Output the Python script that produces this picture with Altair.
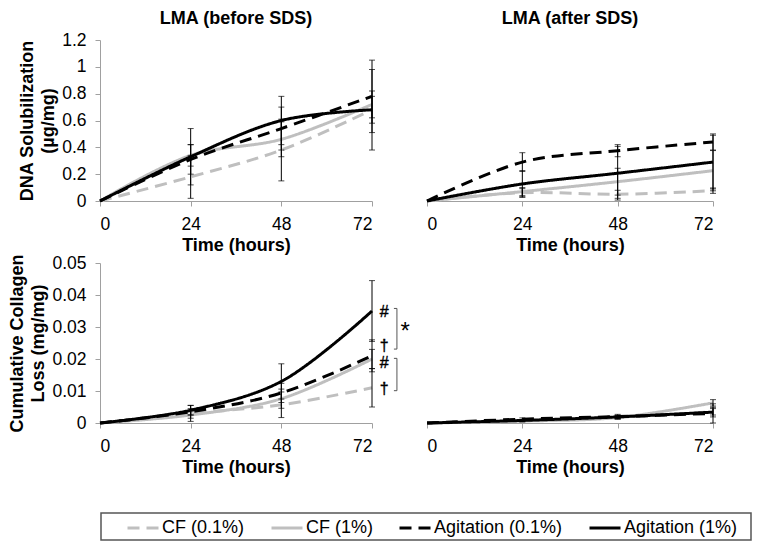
import altair as alt
import pandas as pd

hours = [0, 24, 48, 72]
series = ["CF (0.1%)", "CF (1%)", "Agitation (0.1%)", "Agitation (1%)"]
colors = ["#bfbfbf", "#bfbfbf", "#000000", "#000000"]
dashes = [[12, 7], [1, 0], [12, 7], [1, 0]]

# DNA solubilization, LMA before SDS
dna_before_cf01 = [0, 0.18, 0.38, 0.68]
dna_before_cf1 = [0, 0.34, 0.46, 0.72]
dna_before_ag01 = [0, 0.31, 0.54, 0.78]
dna_before_ag1 = [0, 0.33, 0.60, 0.68]
dna_before_err_cf01 = [0, 0.16, 0.23, 0.10]
dna_before_err_cf1 = [0, 0.08, 0.13, 0.10]
dna_before_err_ag01 = [0, 0.11, 0.16, 0.27]
dna_before_err_ag1 = [0, 0.21, 0.18, 0.30]

# DNA solubilization, LMA after SDS
dna_after_cf01 = [0, 0.062, 0.05, 0.077]
dna_after_cf1 = [0, 0.07, 0.144, 0.226]
dna_after_ag01 = [0, 0.29, 0.375, 0.44]
dna_after_ag1 = [0, 0.127, 0.207, 0.29]
dna_after_err_cf01 = [0, 0.03, 0.03, 0.02]
dna_after_err_cf1 = [0, 0.03, 0.10, 0.15]
dna_after_err_ag01 = [0, 0.07, 0.045, 0.06]
dna_after_err_ag1 = [0, 0.10, 0.20, 0.20]

# Cumulative collagen loss, LMA before SDS
col_before_cf01 = [0, 0.003, 0.0057, 0.011]
col_before_cf1 = [0, 0.0025, 0.0076, 0.020]
col_before_ag01 = [0, 0.0035, 0.0094, 0.021]
col_before_ag1 = [0, 0.004, 0.013, 0.035]
col_before_err_cf01 = [0, 0.0025, 0.004, 0.006]
col_before_err_cf1 = [0, 0.001, 0.003, 0.003]
col_before_err_ag01 = [0, 0.001, 0.003, 0.005]
col_before_err_ag1 = [0, 0.0015, 0.0055, 0.0095]

# Cumulative collagen loss, LMA after SDS
col_after_cf01 = [0, 0.0008, 0.0018, 0.0035]
col_after_cf1 = [0, 0.0006, 0.0017, 0.0063]
col_after_ag01 = [0, 0.0012, 0.0020, 0.0030]
col_after_ag1 = [0, 0.0008, 0.0019, 0.0034]
col_after_err_cf01 = [0, 0.0003, 0.0005, 0.001]
col_after_err_cf1 = [0, 0.0003, 0.0005, 0.001]
col_after_err_ag01 = [0, 0.0004, 0.0007, 0.003]
col_after_err_ag1 = [0, 0.0003, 0.0005, 0.0015]

# significance annotations (bottom-left panel)
mark_text_small = ["#", "†", "#", "†"]
mark_hour_small = [75.2, 75.2, 75.2, 75.2]
mark_value_small = [0.0348, 0.0240, 0.0188, 0.0105]
star_text = ["*"]
star_hour = [80.8]
star_value = [0.0297]
bracket_top = [0.0358, 0.0202]
bracket_bottom = [0.0231, 0.0101]
bracket_hour = [78.6, 78.6]
bracket_hour_in = [77.8, 77.8]

FONT = "Liberation Sans"


def make_df(vals, errs):
    rows = []
    for s, v, e in zip(series, vals, errs):
        for h, vv, ee in zip(hours, v, e):
            rows.append({"hour": h, "series": s, "value": vv, "err": ee,
                         "lo": vv - ee, "hi": vv + ee})
    return pd.DataFrame(rows)


legend = alt.Legend(orient="none", legendX=26, legendY=471, direction="horizontal",
                    columns=4, title=None, symbolType="stroke", symbolStrokeWidth=3,
                    symbolSize=961, labelFontSize=18, labelFont=FONT, labelColor="black",
                    padding=0, columnPadding=20, labelOffset=2, labelLimit=300)


def panel(vals, errs, ydomain, width, height, show_y, ytitle, yfmt, ystep,
          title=None, title_offset=0, annotate=False):
    df = make_df(vals, errs)
    xenc = alt.X("hour:Q", scale=alt.Scale(domain=[0, 72], nice=False),
                 axis=alt.Axis(values=hours, title="Time (hours)", format="d"))
    yvals = [round(i * ystep, 4) for i in range(int(round(ydomain[1] / ystep)) + 1)]
    if show_y:
        yaxis = alt.Axis(values=yvals, format=yfmt, title=ytitle, labelOverlap=False)
    else:
        yaxis = None
    yscale = alt.Scale(domain=ydomain, nice=False)
    lines = alt.Chart(df).mark_line(interpolate="catmull-rom", strokeWidth=3).encode(
        x=xenc,
        y=alt.Y("value:Q", scale=yscale, axis=yaxis),
        color=alt.Color("series:N", scale=alt.Scale(domain=series, range=colors),
                        sort=series, legend=legend),
        strokeDash=alt.StrokeDash("series:N", scale=alt.Scale(domain=series, range=dashes),
                                  sort=series, legend=legend),
    )
    edf = df[df["err"] > 0]
    rules = alt.Chart(edf).mark_rule(color="black", strokeWidth=1).encode(
        x="hour:Q", y=alt.Y("lo:Q", axis=yaxis), y2="hi:Q")
    caps_lo = alt.Chart(edf).mark_tick(color="black", orient="horizontal", size=6,
                                       thickness=1).encode(x="hour:Q",
                                                           y=alt.Y("lo:Q", axis=yaxis))
    caps_hi = alt.Chart(edf).mark_tick(color="black", orient="horizontal", size=6,
                                       thickness=1).encode(x="hour:Q",
                                                           y=alt.Y("hi:Q", axis=yaxis))
    layers = [lines, rules, caps_lo, caps_hi]
    if annotate:
        adf = pd.DataFrame({"t": mark_text_small, "hour": mark_hour_small,
                            "value": mark_value_small})
        txt = alt.Chart(adf).mark_text(font=FONT, fontSize=16, fill="black",
                                       stroke="black", strokeWidth=0.4).encode(
            x="hour:Q", y=alt.Y("value:Q", axis=yaxis), text="t:N")
        sdf = pd.DataFrame({"t": star_text, "hour": star_hour, "value": star_value})
        star = alt.Chart(sdf).mark_text(font=FONT, fontSize=24, fill="black", dy=4).encode(
            x="hour:Q", y=alt.Y("value:Q", axis=yaxis), text="t:N")
        bdf = pd.DataFrame({"top": bracket_top, "bottom": bracket_bottom,
                            "hx": bracket_hour, "hin": bracket_hour_in})
        bv = alt.Chart(bdf).mark_rule(color="#555555", strokeWidth=1).encode(
            x="hx:Q", y=alt.Y("top:Q", axis=yaxis), y2="bottom:Q")
        bt = alt.Chart(bdf).mark_rule(color="#555555", strokeWidth=1).encode(
            x="hin:Q", x2="hx:Q", y=alt.Y("top:Q", axis=yaxis))
        bb = alt.Chart(bdf).mark_rule(color="#555555", strokeWidth=1).encode(
            x="hin:Q", x2="hx:Q", y=alt.Y("bottom:Q", axis=yaxis))
        # frame around the legend (below the panels)
        frame = alt.Chart(pd.DataFrame({"f": [0]})).mark_rect(
            fill="white", fillOpacity=0, stroke="#555555", strokeWidth=1.5).encode(
            x=alt.value(1), x2=alt.value(651), y=alt.value(250), y2=alt.value(277))
        layers += [bv, bt, bb, txt, star, frame]
    props = dict(width=width, height=height)
    if title:
        props["title"] = alt.TitleParams(title, font=FONT, fontSize=18, fontWeight="bold",
                                         color="black", offset=title_offset)
    return alt.layer(*layers).properties(**props)


tl = panel([dna_before_cf01, dna_before_cf1, dna_before_ag01, dna_before_ag1],
           [dna_before_err_cf01, dna_before_err_cf1, dna_before_err_ag01, dna_before_err_ag1],
           [0, 1.2], 272, 161, True, ["DNA Solubilization", "(µg/mg)"], ".1~f", 0.2,
           title="LMA (before SDS)", title_offset=3)
tr = panel([dna_after_cf01, dna_after_cf1, dna_after_ag01, dna_after_ag1],
           [dna_after_err_cf01, dna_after_err_cf1, dna_after_err_ag01, dna_after_err_ag1],
           [0, 1.2], 286, 161, False, "", ".1~f", 0.2,
           title="LMA (after SDS)", title_offset=12)
bl = panel([col_before_cf01, col_before_cf1, col_before_ag01, col_before_ag1],
           [col_before_err_cf01, col_before_err_cf1, col_before_err_ag01, col_before_err_ag1],
           [0, 0.05], 272, 160, True, ["Cumulative Collagen", "Loss (mg/mg)"], ".2~f", 0.01,
           annotate=True)
br = panel([col_after_cf01, col_after_cf1, col_after_ag01, col_after_ag1],
           [col_after_err_cf01, col_after_err_cf1, col_after_err_ag01, col_after_err_ag1],
           [0, 0.05], 286, 160, False, "", ".2~f", 0.01)

chart = alt.concat(tl, tr, bl, br, columns=2, spacing={"row": 62, "column": 55},
                   bounds="flush").properties(
    padding={"left": 0, "top": 2, "right": 0, "bottom": 0}
).configure_view(stroke=None).configure_axis(
    grid=False, labelFont=FONT, labelFontSize=17.5, labelColor="black",
    titleFont=FONT, titleFontSize=18, titleFontWeight="bold", titleColor="black",
    titleLineHeight=21, domainColor="#a0a0a0", tickColor="#a0a0a0", tickSize=5,
    labelPadding=9, titlePadding=4, labelOverlap=False
)

chart.save("out.html", embed_options={"renderer": "svg", "actions": False})
